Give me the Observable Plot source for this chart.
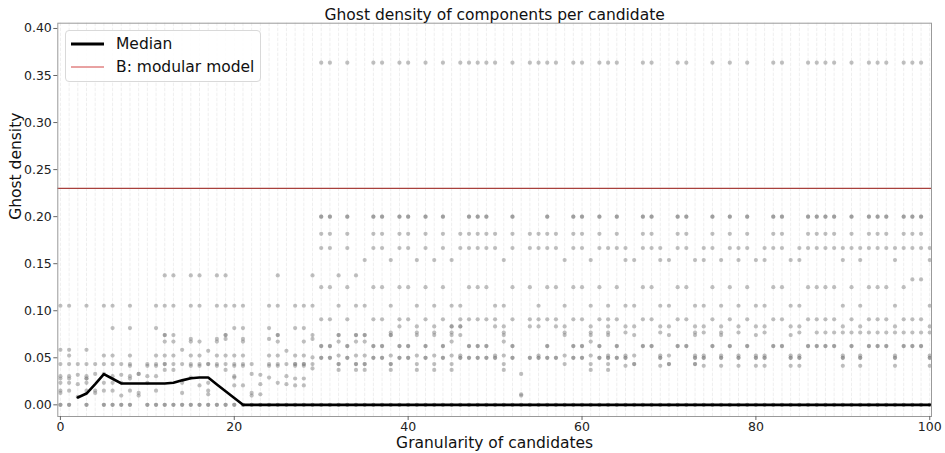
<!DOCTYPE html>
<html>
<head>
<meta charset="utf-8">
<script src="https://cdn.jsdelivr.net/npm/d3@7"></script>
<script src="https://cdn.jsdelivr.net/npm/@observablehq/plot@0.6"></script>
<style>
  body { margin: 0; background: #fff; }
  #chart { position: relative; width: 945px; height: 453px; font-family: "DejaVu Sans", sans-serif; }
  .legend { position: absolute; left: 65px; top: 30px; width: 196px; height: 52px; box-sizing: border-box;
            border: 1px solid #d9d9d9; border-radius: 4px; background: rgba(255,255,255,0.85); }
  .legend .row { position: absolute; left: 0; height: 20px; display: flex; align-items: center;
                 font-size: 15.5px; color: #111; white-space: nowrap; }
  .legend svg { margin-left: 5px; margin-right: 12px; }
</style>
</head>
<body>
<div id="chart"></div>
<script>
// Granularities (x) at which a candidate reached each ghost density level.
// A granularity listed twice means two candidates share that value.
const d3636 = [30,31,33,36,37,39,40,42,44,46,47,48,49,50,52,54,55,56,57,59,60,62,63,64,67,68,71,72,75,77,79,82,83,86,87,88,89,91,93,94,95,97,98,99];
const d2000 = [30,31,33,36,37,39,40,42,44,47,48,49,52,56,59,60,62,64,67,68,71,72,75,77,79,82,83,86,87,88,89,91,93,94,95,97,98,99];
const d1818 = [30,31,33,36,37,39,40,42,44,46,47,48,49,50,52,54,55,56,57,59,60,62,64,67,68,71,72,75,77,79,82,83,86,87,88,89,91,93,94,95,97,98,99];
const d1667 = [30,31,33,36,37,39,40,42,44,46,47,48,49,50,52,54,55,56,57,59,60,62,63,64,65,67,68,69,71,72,74,75,77,78,79,81,82,83,85,86,87,88,89,90,91,92,93,94,95,96,97,98,99,100];
const d1538 = [35,38,41,43,45,51,58,61,65,66,69,70,73,74,76,78,80,81,84,85,90,92,96,100];
const d1375 = [12,13,15,16,18,19,25,29,32,34];
const d1333 = [98,99];
const d1250 = [30,31,33,36,37,39,40,42,44,47,48,49,52,54,56,57,59,60,62,64,67,68,71,72,75,77,79,82,83,86,87,88,89,91,93,94,95,97];
const d1053 = [0,1,3,5,6,8,11,12,13,15,16,18,19,20,21,24,25,27,28,29,32,34,35,38,41,43,45,46,50,51,55,58,61,63,65,66,69,70,73,74,76,78,80,81,84,85,90,92,96,100];
const d0909 = [30,31,33,36,37,39,40,42,44,46,47,48,49,50,52,54,55,56,57,59,60,62,63,64,67,68,71,72,75,77,79,82,83,86,87,88,89,91,93,94,95,97,98,99];
const d0833 = [39,41,43,45,45,46,46,50,51,54,55,57,58,61,63,65,66,69,70,73,74,76,78,80,81,84,85,90,92,96,100];
const d0816 = [6,8,11,20,21,24,27,28];
const d0769 = [38,41,43,45,51,58,61,63,65,69,73,74,76,78,81,85,87,88,89,90,91,92,93,94,95,96,97,98,99,100];
const d0741 = [12,12,13,19,19,25,25,29,32,32,34,34,35,35,38,38,41,43,45,46,51,58,61,63,66,70,73,76,80,84];
const d0700 = [15,18,19,21,24,29];
const d0672 = [12,13,15,16,18,21,25,28,32,34,35,45,51,61];
const d0625 = [30,31,33,36,37,39,40,42,44,47,48,49,52,56,59,60,62,64,67,68,71,72,75,77,79,82,83,86,87,88,89,91,93,94,95,97,98,99];
const d0585 = [0,1,3,14];
const d0574 = [17,26];
const d0523 = [1,5,6,8,11,12,13,15,16,18,19,20,21,24,25,27,28,32,34,35,38,41,43,45,46,50,51,55,58,61,63,65,66,69,70,73,74,76,78,80,81,84,85,90,92,96,100];
const d0500 = [30,31,33,36,37,39,40,42,44,46,47,48,49,50,52,54,55,56,57,59,60,62,63,64,65,69,73,74,76,78,80,81,84,85,90,92,96,100];
const d0504 = [29];
const d0433 = [0,1,2,3,4,5,6,7,8,10,11,12,12,13,14,15,16,17,17,18,19,20,21,22,24,25,26,27,27,28,28,29,32,32,34,34,35,35,38,38,41,43,45,51,58,61,63,66,66,70,70,73,73];
const d0415 = [8,10,11,15,16,18,20,21,24,25,27,28,65,69,74,76,78,80,81,84,85,90,92,96,100];
const d0387 = [29];
const d0371 = [12,13,19,32,34,35,38,41,43,45,51,61,63];
const d0328 = [4,5,9,9,22,53];
const d0319 = [2,7,23];
const d0305 = [0,1,3,6,8,10,11,20,26];
const d0290 = [15,20,24];
const d0280 = [0,1,3,3,8,27,28];
const d0234 = [0,1,3,5,6,7,10,14,17,25];
const d0220 = [2,23,26];
const d0206 = [16,20,21,27,28];
const d0150 = [0,1,3,4,5,6,8,11,17];
const d0127 = [0,4,9,14,22];
const d0112 = [17,23,53];
const d0098 = [7,9,22,53];
const d0085 = [2];
const d0000 = [0,1,3,5,6,7,8,10,11,12,13,14,15,16,17,18,19,20,21,22,23,24,25,26,27,28,29,30,31,32,33,34,35,36,37,38,39,40,41,42,43,44,45,46,47,48,49,50,51,52,53,54,55,56,57,58,59,60,61,62,63,64,65,66,67,68,69,70,71,72,73,74,75,76,77,78,79,80,81,82,83,84,85,86,87,88,89,90,91,92,93,94,95,96,97,98,99,100];

// [density, granularities, candidates per granularity]
const levels = [
  [0.3636, d3636, 1], [0.2000, d2000, 2], [0.1818, d1818, 1], [0.1667, d1667, 1],
  [0.1538, d1538, 1], [0.1375, d1375, 1], [0.1333, d1333, 1], [0.1250, d1250, 1],
  [0.1053, d1053, 1], [0.0909, d0909, 1], [0.0833, d0833, 1], [0.0816, d0816, 1],
  [0.0769, d0769, 1], [0.0741, d0741, 1], [0.0700, d0700, 1], [0.0672, d0672, 1],
  [0.0625, d0625, 2], [0.0585, d0585, 1], [0.0574, d0574, 1], [0.0523, d0523, 1],
  [0.0500, d0500, 2], [0.0504, d0504, 1], [0.0433, d0433, 1], [0.0415, d0415, 1],
  [0.0387, d0387, 1], [0.0371, d0371, 1], [0.0328, d0328, 1], [0.0319, d0319, 1],
  [0.0305, d0305, 1], [0.0290, d0290, 1], [0.0280, d0280, 1], [0.0234, d0234, 1],
  [0.0220, d0220, 1], [0.0206, d0206, 1], [0.0150, d0150, 1], [0.0127, d0127, 1],
  [0.0112, d0112, 1], [0.0098, d0098, 1], [0.0085, d0085, 1], [0.0000, d0000, 2]
];

// Median ghost density per granularity (2 to 100)
const medianX = [2,3,4,5,6,7,8,9,10,11,12,13,14,15,16,17,18,19,20,21,22,23,24,25,26,27,28,29,30,31,32,33,34,35,36,37,38,39,40,41,42,43,44,45,46,47,48,49,50,51,52,53,54,55,56,57,58,59,60,61,62,63,64,65,66,67,68,69,70,71,72,73,74,75,76,77,78,79,80,81,82,83,84,85,86,87,88,89,90,91,92,93,94,95,96,97,98,99,100];
const medianY = [
  0.0078,0.012,0.022,0.0326,0.0277,0.0227,0.0227,0.0227,0.0227,0.0227,  // 2-11
  0.0227,0.0234,0.026,0.0283,0.029,0.029,0.0217,0.0145,0.0072,          // 12-20
  0,0,0,0,0,0,0,0,0,0,   // 21-30
  0,0,0,0,0,0,0,0,0,0,   // 31-40
  0,0,0,0,0,0,0,0,0,0,   // 41-50
  0,0,0,0,0,0,0,0,0,0,   // 51-60
  0,0,0,0,0,0,0,0,0,0,   // 61-70
  0,0,0,0,0,0,0,0,0,0,   // 71-80
  0,0,0,0,0,0,0,0,0,0,   // 81-90
  0,0,0,0,0,0,0,0,0,0    // 91-100
];

// Reference value of the modular model
const modularModel = 0.23;

const xTicks = [0, 20, 40, 60, 80, 100];
const yTicks = [0, 0.05, 0.10, 0.15, 0.20, 0.25, 0.30, 0.35, 0.40];
const gridX = d3.range(0, 101);

const title = "Ghost density of components per candidate";
const xLabel = "Granularity of candidates";
const yLabel = "Ghost density";

const points = levels.flatMap(([density, xs, n]) =>
  xs.flatMap(g => Array.from({length: n}, () => ({granularity: g, density}))));
const median = medianX.map((g, i) => ({granularity: g, density: medianY[i]}));

const chart = Plot.plot({
  width: 945,
  height: 453,
  marginLeft: 57.3,
  marginRight: 14,
  marginTop: 22.7,
  marginBottom: 37,
  style: {fontFamily: "DejaVu Sans, sans-serif", fontSize: "12px", color: "#222", background: "white"},
  x: {domain: [-0.3, 100.2]},
  y: {domain: [-0.0124, 0.4056]},
  marks: [
    Plot.ruleX(gridX, {stroke: "#c8c8c8", strokeOpacity: 0.4, strokeWidth: 0.8, strokeDasharray: "3.5,1.5"}),
    Plot.ruleY([modularModel], {stroke: "#a8403c", strokeWidth: 1.2}),
    Plot.dot(points, {x: "granularity", y: "density", r: 2.1, fill: "#808080", fillOpacity: 0.5, stroke: null}),
    Plot.line(median, {x: "granularity", y: "density", stroke: "black", strokeWidth: 2.6}),
    Plot.frame({stroke: "#9a9a9a"}),
    Plot.axisX({ticks: xTicks, tickSize: 4, tickPadding: 1.5, stroke: "#666", fill: "#222", label: null, fontSize: 12.5}),
    Plot.axisY({ticks: yTicks, tickSize: 4, tickPadding: 2, stroke: "#666", fill: "#222", label: null, fontSize: 12.5, tickFormat: d3.format(".2f")}),
    Plot.text([title], {text: d => d, frameAnchor: "top", lineAnchor: "bottom", dy: -3, fontSize: 15.5, fill: "#111"}),
    Plot.text([xLabel], {text: d => d, frameAnchor: "bottom", lineAnchor: "top", dy: 20, fontSize: 15.5, fill: "#111"}),
    Plot.text([yLabel], {text: d => d, frameAnchor: "left", rotate: -90, dx: -42, fontSize: 15.5, fill: "#111"})
  ]
});

const root = document.getElementById("chart");
root.appendChild(chart);

// Legend box
const legend = document.createElement("div");
legend.className = "legend";
const entries = [
  {label: "Median", color: "black", width: 2.8, top: 2.5},
  {label: "B: modular model", color: "#d24545", width: 1, top: 26}
];
for (const e of entries) {
  const row = document.createElement("div");
  row.className = "row";
  row.style.top = e.top + "px";
  row.innerHTML = `<svg width="33" height="20"><line x1="0" x2="33" y1="10" y2="10" stroke="${e.color}" stroke-width="${e.width}"/></svg><span>${e.label}</span>`;
  legend.appendChild(row);
}
root.appendChild(legend);
</script>
</body>
</html>
